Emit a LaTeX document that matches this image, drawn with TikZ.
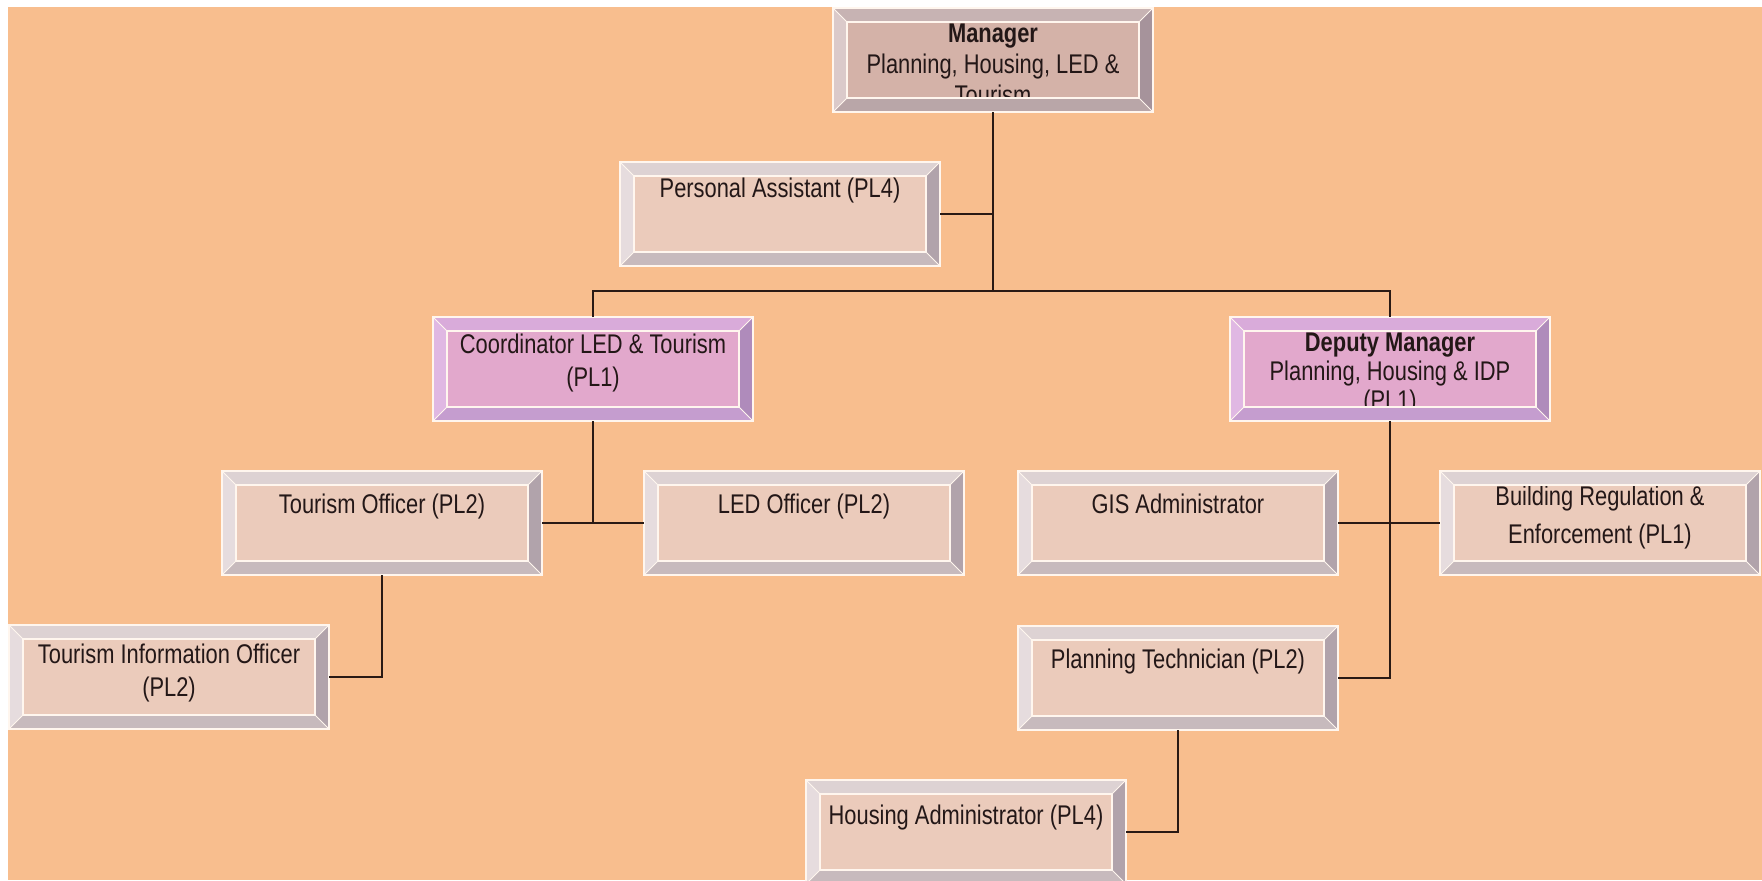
\documentclass[tikz,border=0pt]{standalone}
\usepackage{fontspec}
\setmainfont{Liberation Sans}[FakeStretch=0.81]
\usetikzlibrary{calc}

% page and ink
\definecolor{page}{HTML}{F8BE8E}
\definecolor{ink}{HTML}{231717}
\definecolor{wire}{HTML}{2A1A14}
\definecolor{rimcol}{HTML}{FFF6EE}
% manager box
\definecolor{mgF}{HTML}{D4B2A8}
\definecolor{mgT}{HTML}{C7B3B3}
\definecolor{mgL}{HTML}{DBCACA}
\definecolor{mgR}{HTML}{A6939B}
\definecolor{mgB}{HTML}{B9A6A8}
% plain staff boxes
\definecolor{ltF}{HTML}{EBCBBB}
\definecolor{ltT}{HTML}{DDD2D3}
\definecolor{ltL}{HTML}{E6DCDE}
\definecolor{ltR}{HTML}{B1A3AB}
\definecolor{ltB}{HTML}{C7BABD}
% coordinator / deputy boxes
\definecolor{puF}{HTML}{E2A8CC}
\definecolor{puT}{HTML}{D9ABDA}
\definecolor{puL}{HTML}{E0B8E3}
\definecolor{puR}{HTML}{AF8BBB}
\definecolor{puB}{HTML}{C59DCF}

% four bevelled edges and the light rims of a box node
\newcommand\bevel[2]{%
  \fill[#2T] (#1.north west) -- (#1.north east) -- ($(#1.north east)+(-14,14)$) -- ($(#1.north west)+(14,14)$) -- cycle;
  \fill[#2L] (#1.north west) -- ($(#1.north west)+(14,14)$) -- ($(#1.south west)+(14,-14)$) -- (#1.south west) -- cycle;
  \fill[#2R] (#1.north east) -- (#1.south east) -- ($(#1.south east)+(-14,-14)$) -- ($(#1.north east)+(-14,14)$) -- cycle;
  \fill[#2B] (#1.south west) -- (#1.south east) -- ($(#1.south east)+(-14,-14)$) -- ($(#1.south west)+(14,-14)$) -- cycle;
  \draw[rim] (#1.north west) rectangle (#1.south east);
  \draw[rim] ($(#1.north west)+(14,14)$) rectangle ($(#1.south east)+(-14,-14)$);
  \draw[rim, line width=0.4pt] (#1.north west) -- ($(#1.north west)+(14,14)$)
    (#1.north east) -- ($(#1.north east)+(-14,14)$)
    (#1.south west) -- ($(#1.south west)+(14,-14)$)
    (#1.south east) -- ($(#1.south east)+(-14,-14)$);
}

\begin{document}
\begin{tikzpicture}[x=0.5pt,y=-0.5pt,
  box/.style={rectangle, anchor=north west, minimum width=160pt, minimum height=52pt,
    inner sep=0pt, outer sep=0pt},
  lbl/.style={anchor=north, align=center, inner sep=0pt, text=ink,
    font={\fontsize{13.5pt}{16.5pt}\selectfont}},
  rim/.style={draw=rimcol, line width=0.7pt},
  conn/.style={draw=wire, line width=0.9pt}]

\useasboundingbox (0,0) rectangle (1762,880);
\fill[white] (0,0) rectangle (1762,880);
\fill[page] (8,7) rectangle (1762,880);

% box faces
\node[box, fill=mgF] (mgr)   at (833,8)    {};
\node[box, fill=ltF] (pa)    at (620,162)  {};
\node[box, fill=puF] (coord) at (433,317)  {};
\node[box, fill=puF] (dep)   at (1230,317) {};
\node[box, fill=ltF] (to)    at (222,471)  {};
\node[box, fill=ltF] (led)   at (644,471)  {};
\node[box, fill=ltF] (gis)   at (1018,471) {};
\node[box, fill=ltF] (bre)   at (1440,471) {};
\node[box, fill=ltF] (tio)   at (9,625)    {};
\node[box, fill=ltF] (pt)    at (1018,626) {};
\node[box, fill=ltF] (ha)    at (806,780)  {};

% titles
\node[lbl, font={\fontsize{13.5pt}{15.5pt}\selectfont}] (mgr-t) at ($(mgr.north)+(0,16)$)
  {\textbf{Manager}\\Planning, Housing, LED \&\\Tourism};
\node[lbl] (pa-t) at ($(pa.north)+(0,16)$) {Personal Assistant (PL4)};
\node[lbl] (coord-t) at ($(coord.north)+(0,17)$) {Coordinator LED \& Tourism\\(PL1)};
\node[lbl, font={\fontsize{13.5pt}{14.5pt}\selectfont}] (dep-t) at ($(dep.north)+(0,16)$)
  {\textbf{Deputy Manager}\\Planning, Housing \& IDP\\(PL1)};
\node[lbl] (to-t) at ($(to.north)+(0,23)$) {Tourism Officer (PL2)};
\node[lbl] (led-t) at ($(led.north)+(0,23)$) {LED Officer (PL2)};
\node[lbl] (gis-t) at ($(gis.north)+(0,23)$) {GIS Administrator};
\node[lbl, font={\fontsize{13.5pt}{19pt}\selectfont}] (bre-t) at ($(bre.north)+(0,15)$)
  {Building Regulation \&\\Enforcement (PL1)};
\node[lbl, font={\fontsize{13.5pt}{16.5pt}\selectfont}] (tio-t) at ($(tio.north)+(0,19)$)
  {Tourism Information Officer\\(PL2)};
\node[lbl] (pt-t) at ($(pt.north)+(0,23)$) {Planning Technician (PL2)};
\node[lbl] (ha-t) at ($(ha.north)+(0,25)$) {Housing Administrator (PL4)};

% bevelled frames, laid over the faces
\foreach \n/\s in {mgr/mg, pa/lt, coord/pu, dep/pu, to/lt, led/lt, gis/lt, bre/lt, tio/lt, pt/lt, ha/lt}
  {\bevel{\n}{\s}}

% reporting lines
\coordinate (hub) at (mgr.south |- 0,291);
\draw[conn] (mgr.south) -- (hub);
\draw[conn] (pa.east) -- (pa.east -| hub);
\draw[conn] (coord.north) -- (coord.north |- hub) -- (dep.north |- hub) -- (dep.north);
\draw[conn] (coord.south) -- (coord.south |- to.east);
\draw[conn] (to.east) -- (led.west);
\draw[conn] (to.south) |- (tio.east);
\draw[conn] (dep.south) |- (pt.east);
\draw[conn] (gis.east) -- (bre.west);
\draw[conn] (pt.south) |- (ha.east);
\end{tikzpicture}
\end{document}
